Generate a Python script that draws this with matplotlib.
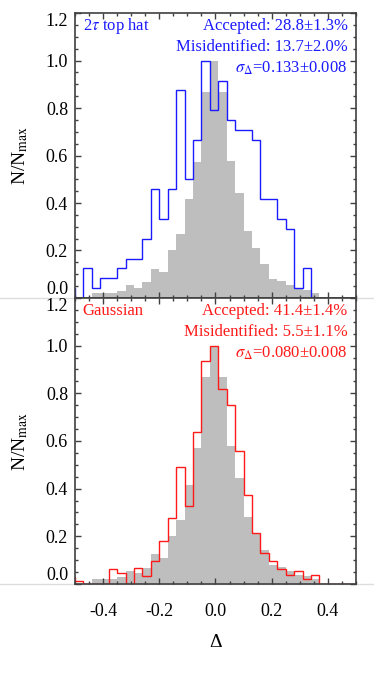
import numpy as np
import matplotlib
matplotlib.use('Agg')
import matplotlib.pyplot as plt
from matplotlib.ticker import MultipleLocator
from matplotlib.lines import Line2D

plt.rcParams['font.family'] = ['Liberation Serif', 'DejaVu Serif']
plt.rcParams['mathtext.fontset'] = 'stix'

# histogram bins: width 0.03, first bin (-0.53..-0.50) falls just outside the plot
bin_start = -0.53
bin_width = 0.03

# reference distribution (grey), same in both panels
ref = [0, 0, 0, 0.019, 0.019, 0.019, 0.030, 0.054, 0.044, 0.066, 0.124, 0.110,
       0.200, 0.269, 0.416, 0.572, 0.867, 1.0, 0.869, 0.577, 0.444, 0.282, 0.212,
       0.143, 0.080, 0.071, 0.053, 0.038, 0.035, 0.019, 0, 0, 0, 0, 0]

# 2 tau top hat (blue)
tophat = [0.043, 0, 0.126, 0.041, 0.083, 0.083, 0.126, 0.166, 0.166, 0.249, 0.458,
          0.332, 0.458, 0.874, 0.501, 0.667, 1.0, 0.792, 0.913, 0.750, 0.708,
          0.708, 0.666, 0.416, 0.416, 0.332, 0.291, 0.041, 0.125, 0, 0, 0, 0, 0, 0]

# Gaussian (red)
gauss = [0.031, 0.014, 0, 0, 0, 0.064, 0.048, 0, 0.065, 0.033, 0.097, 0.179, 0.278,
         0.489, 0.327, 0.637, 0.937, 1.0, 0.819, 0.752, 0.556, 0.374, 0.212, 0.128,
         0.098, 0.064, 0.036, 0.056, 0.021, 0.036, 0, 0, 0, 0, 0]

labels = ['2$\\tau$ top hat', 'Gaussian']
stats = [['Accepted: 28.8\u00b11.3%', 'Misidentified: 13.7\u00b12.0%', '$\\sigma_\\Delta$=0.133\u00b10.008'],
         ['Accepted: 41.4\u00b11.4%', 'Misidentified: 5.5\u00b11.1%', '$\\sigma_\\Delta$=0.080\u00b10.008']]
colors = ['#1a1aff', '#ff1a1a']
series = [tophat, gauss]

edges = bin_start + bin_width * np.arange(len(ref) + 1)

fig = plt.figure(figsize=(3.74, 6.8), dpi=100)
# light grey rules across the page
for yy in [1 - 298 / 680, 1 - 584 / 680]:
    fig.add_artist(Line2D([0, 1], [yy, yy], color='#dddddd', lw=1.0, zorder=0))

ax_top = fig.add_axes([0.2005, 0.5618, 0.7513, 0.4190])
ax_bot = fig.add_axes([0.2005, 0.1412, 0.7513, 0.4206])

for i, ax in enumerate([ax_top, ax_bot]):
    ax.stairs(ref, edges, fill=True, color='#bebebe', lw=0, zorder=1)
    ax.stairs(series[i], edges, color=colors[i], lw=1.0, zorder=2)
    ax.set_xlim(-0.5, 0.5)
    ax.set_ylim(0, 1.2)
    ax.set_xticks([-0.4, -0.2, 0.0, 0.2, 0.4])
    ax.set_yticks([0.0, 0.2, 0.4, 0.6, 0.8, 1.0, 1.2])
    ax.xaxis.set_minor_locator(MultipleLocator(0.05))
    ax.yaxis.set_minor_locator(MultipleLocator(0.05))
    ax.xaxis.set_major_formatter(matplotlib.ticker.FormatStrFormatter('%.1f'))
    ax.yaxis.set_major_formatter(matplotlib.ticker.FormatStrFormatter('%.1f'))
    ax.tick_params(which='both', direction='in', top=True, right=True,
                   color='#404040', labelsize=13)
    ax.tick_params(which='major', length=4.5, width=1.0)
    ax.tick_params(which='minor', length=2.3, width=1.0)
    ax.tick_params(axis='x', pad=14)
    ax.tick_params(axis='y', pad=5)
    for s in ax.spines.values():
        s.set_color('#404040')
        s.set_linewidth(1.2)
        s.set_zorder(3)
    yt = ax.yaxis.get_major_ticks()
    yt[0].label1.set_va('bottom')
    yt[-1].label1.set_va('top')

    ax.set_ylabel('N/N$_{\\rm max}$', fontsize=14)
    ax.yaxis.set_label_coords(-0.16, 0.5)

    ax.text(0.027, 0.942, labels[i], color=colors[i], fontsize=12,
            transform=ax.transAxes, ha='left', va='baseline')
    for j, yy in enumerate([0.942, 0.866, 0.79]):
        ax.text(0.97, yy, stats[i][j], color=colors[i], fontsize=12,
                transform=ax.transAxes, ha='right', va='baseline')

ax_top.tick_params(axis='x', labelbottom=False)
ax_bot.set_xlabel('\u0394', fontsize=14, labelpad=10)

plt.savefig('out.png', dpi=100)
